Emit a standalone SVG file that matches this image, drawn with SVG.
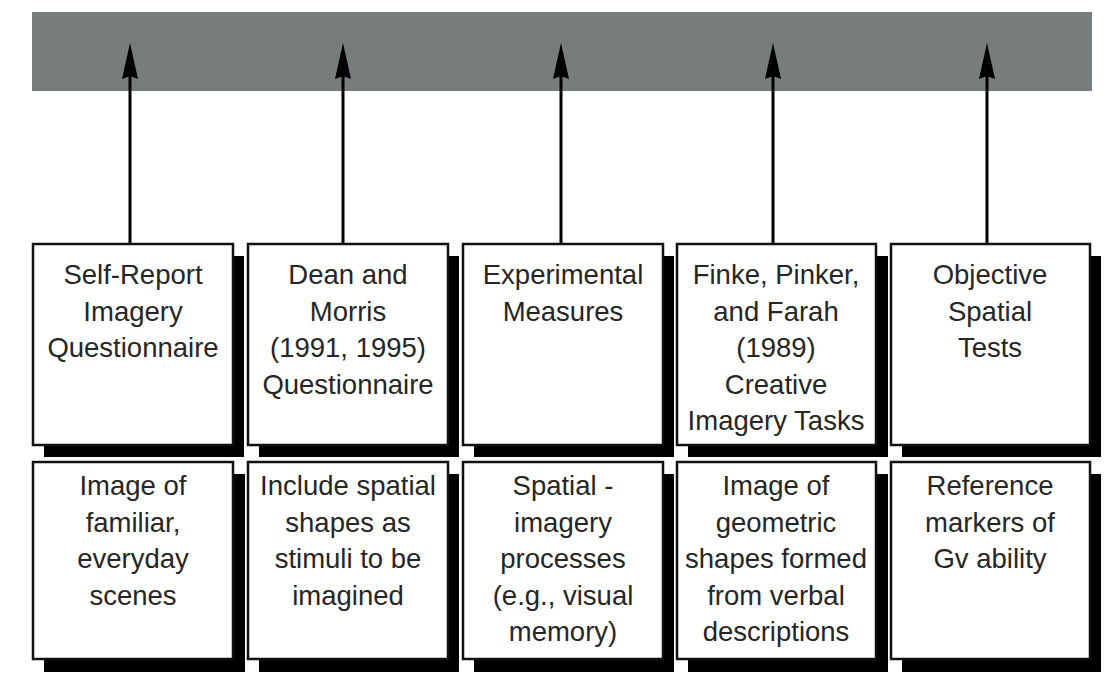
<svg xmlns="http://www.w3.org/2000/svg" width="1109" height="684" viewBox="0 0 1109 684">
<defs>
<style>
.shadow{fill:#000}
.box{fill:#fff;stroke:#111;stroke-width:2.5}
.t{font-family:"Liberation Sans",Arial,sans-serif;font-size:27.5px;fill:#262626;text-anchor:middle}
.arrow{stroke:#000;stroke-width:3;fill:none}
</style>
<marker id="ah" markerUnits="userSpaceOnUse" markerWidth="40" markerHeight="18" refX="6" refY="9" orient="auto" viewBox="0 0 40 18">
<path d="M38 9 L2 1 L5 9 L2 17 Z" fill="#000"/>
</marker>
</defs>
<rect width="1109" height="684" fill="#fff"/>
<g id="bar"><rect x="32" y="12" width="1060" height="79" fill="#777d7d"/></g>
<g id="connectors">
<line class="arrow" x1="130" y1="244" x2="130" y2="75" marker-end="url(#ah)"/>
<line class="arrow" x1="343" y1="244" x2="343" y2="75" marker-end="url(#ah)"/>
<line class="arrow" x1="561" y1="244" x2="561" y2="75" marker-end="url(#ah)"/>
<line class="arrow" x1="773" y1="244" x2="773" y2="75" marker-end="url(#ah)"/>
<line class="arrow" x1="987" y1="244" x2="987" y2="75" marker-end="url(#ah)"/>
</g>
<g id="top1"><rect class="shadow" x="44" y="256" width="200" height="201"/><rect class="box" x="33" y="244" width="200" height="201"/>
<text class="t" x="133" y="284">Self-Report</text><text class="t" x="133" y="320.5">Imagery</text><text class="t" x="133" y="357">Questionnaire</text></g>
<g id="top2"><rect class="shadow" x="259" y="256" width="200" height="201"/><rect class="box" x="248" y="244" width="200" height="201"/>
<text class="t" x="348" y="284">Dean and</text><text class="t" x="348" y="320.5">Morris</text><text class="t" x="348" y="357">(1991, 1995)</text><text class="t" x="348" y="393.5">Questionnaire</text></g>
<g id="top3"><rect class="shadow" x="474" y="256" width="200" height="201"/><rect class="box" x="463" y="244" width="200" height="201"/>
<text class="t" x="563" y="284">Experimental</text><text class="t" x="563" y="320.5">Measures</text></g>
<g id="top4"><rect class="shadow" x="688" y="256" width="200" height="201"/><rect class="box" x="677" y="244" width="199" height="201"/>
<text class="t" x="776" y="284">Finke, Pinker,</text><text class="t" x="776" y="320.5">and Farah</text><text class="t" x="776" y="357">(1989)</text><text class="t" x="776" y="393.5">Creative</text><text class="t" x="776" y="430">Imagery Tasks</text></g>
<g id="top5"><rect class="shadow" x="902" y="256" width="199" height="201"/><rect class="box" x="891" y="244" width="199" height="201"/>
<text class="t" x="990" y="284">Objective</text><text class="t" x="990" y="320.5">Spatial</text><text class="t" x="990" y="357">Tests</text></g>
<g id="bot1"><rect class="shadow" x="44" y="474" width="201" height="198"/><rect class="box" x="33" y="462" width="200" height="197"/>
<text class="t" x="133" y="495">Image of</text><text class="t" x="133" y="531.5">familiar,</text><text class="t" x="133" y="568">everyday</text><text class="t" x="133" y="604.5">scenes</text></g>
<g id="bot2"><rect class="shadow" x="259" y="474" width="200" height="198"/><rect class="box" x="248" y="462" width="200" height="197"/>
<text class="t" x="348" y="495">Include spatial</text><text class="t" x="348" y="531.5">shapes as</text><text class="t" x="348" y="568">stimuli to be</text><text class="t" x="348" y="604.5">imagined</text></g>
<g id="bot3"><rect class="shadow" x="474" y="474" width="200" height="198"/><rect class="box" x="463" y="462" width="200" height="197"/>
<text class="t" x="563" y="495">Spatial -</text><text class="t" x="563" y="531.5">imagery</text><text class="t" x="563" y="568">processes</text><text class="t" x="563" y="604.5">(e.g., visual</text><text class="t" x="563" y="641">memory)</text></g>
<g id="bot4"><rect class="shadow" x="688" y="474" width="200" height="198"/><rect class="box" x="677" y="462" width="199" height="197"/>
<text class="t" x="776" y="495">Image of</text><text class="t" x="776" y="531.5">geometric</text><text class="t" x="776" y="568">shapes formed</text><text class="t" x="776" y="604.5">from verbal</text><text class="t" x="776" y="641">descriptions</text></g>
<g id="bot5"><rect class="shadow" x="902" y="474" width="199" height="198"/><rect class="box" x="891" y="462" width="199" height="197"/>
<text class="t" x="990" y="495">Reference</text><text class="t" x="990" y="531.5">markers of</text><text class="t" x="990" y="568">Gv ability</text></g>
</svg>
